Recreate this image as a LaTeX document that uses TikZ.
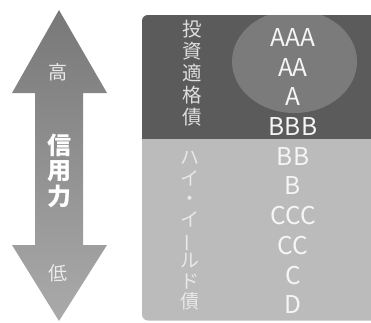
\documentclass[tikz,border=0pt]{standalone}
\usepackage{fontspec}
\usepackage{graphicx}
\setmainfont{Noto Sans CJK JP}
\definecolor{boxdark}{HTML}{5B5B5B}
\definecolor{boxlight}{HTML}{BBBBBB}
\definecolor{arrowtop}{HTML}{787878}
\definecolor{arrowbot}{HTML}{AAAAAA}
\begin{document}
\begin{tikzpicture}
[x=1pt,y=-1pt,%
  every node/.style={inner sep=0pt,text=white},%
  grade/.style={font=\fontsize{24.5}{26}\selectfont,text=black!4},%
  vlabel/.style={align=center,text=black!13}]
\useasboundingbox (0,0) rectangle (371,322);
% arrow
\shade[top color=arrowtop,bottom color=arrowbot]
  (59,10) -- (107,93) -- (83,93) -- (83,245) -- (107,245) -- (59,321)
  -- (12,245) -- (35,245) -- (35,93) -- (12,93) -- cycle;
\node[font=\fontsize{19}{20}\selectfont,text=black!8] (hi) at (58,72) {高};
\node[font=\bfseries\fontsize{24}{25.5}\selectfont,align=center] (credit) at (59,170.5) {信\\用\\力};
\node[font=\fontsize{19}{20}\selectfont,text=black!8] (lo) at (58,273) {低};
% table
\fill[boxlight,rounded corners=6pt] (142,15) rectangle (385,320.5);
\begin{scope}
  \clip[rounded corners=6pt] (142,15) rectangle (385,320.5);
  \fill[boxdark] (142,15) rectangle (385,138.5);
\end{scope}
\begin{scope}
  \clip (142,15) rectangle (385,138.5);
  \fill[white,opacity=0.2] (294.5,61.5) ellipse (62.5 and 51.5);
\end{scope}
\node[vlabel,font=\fontsize{19.5}{22}\selectfont] (invest) at (192.5,73) {投\\資\\適\\格\\債};
\node[vlabel,font=\fontsize{19}{20.6}\selectfont,text=black!9] (junk) at (190,231)
  {ハ\\イ\\・\\イ\\\rotatebox[origin=c]{90}{ー}\\ル\\ド\\債};
\foreach \g [count=\i] in {AAA,AA,A,BBB,BB,B,CCC,CC,C,D}
  \node[grade] (g\i) at (293,{37.5+29.7*(\i-1)}) {\g};
\end{tikzpicture}
\end{document}
